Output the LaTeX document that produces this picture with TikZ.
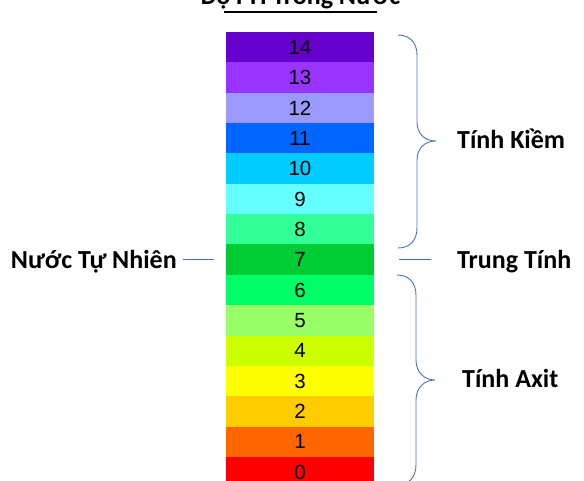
\documentclass[tikz,border=0pt]{standalone}
\usepackage{fontspec}
\setmainfont{Liberation Sans}
\newfontfamily\calibri{Carlito}
\usetikzlibrary{positioning}
\definecolor{braceblue}{HTML}{4472C4}
\definecolor{ph14}{HTML}{6600CC}
\definecolor{ph13}{HTML}{9933FF}
\definecolor{ph12}{HTML}{9999FF}
\definecolor{ph11}{HTML}{0066FF}
\definecolor{ph10}{HTML}{00CCFF}
\definecolor{ph9}{HTML}{66FFFF}
\definecolor{ph8}{HTML}{33FF99}
\definecolor{ph7}{HTML}{00CC33}
\definecolor{ph6}{HTML}{00FF66}
\definecolor{ph5}{HTML}{99FF66}
\definecolor{ph4}{HTML}{CCFF00}
\definecolor{ph3}{HTML}{FFFF00}
\definecolor{ph2}{HTML}{FFCC00}
\definecolor{ph1}{HTML}{FF6600}
\definecolor{ph0}{HTML}{FF0000}

\begin{document}
\begin{tikzpicture}[x=1pt, y=-1pt,
    level/.style={fill=#1, draw=#1, line width=0.6pt, minimum width=147.4pt, minimum height=29.75pt, inner sep=0pt, font=\fontsize{20.5}{20.5}\selectfont},
    tag/.style={font=\calibri\bfseries\fontsize{26}{26}\selectfont, inner sep=0pt, text height=17pt, text depth=0pt},
    thin line/.style={draw=braceblue, line width=0.9pt}]
    \useasboundingbox (0,0) rectangle (584,480);
    \clip (0,0) rectangle (584,480);

    % title, cut at the top edge
    \node[tag, anchor=base] (title) at (300,4) {Độ PH Trong Nước};
    \draw[line width=2pt] (224,12) -- (377,12);

    % the pH scale
    \node[level=ph14] (p14) at (300,47.2) {14};
    \foreach \n [remember=\n as \last (initially 14)] in {13,12,...,0}
        \node[level=ph\n, below=0pt of p\last] (p\n) {\n};

    \node[tag, left=49pt of p7] (natural) {Nước Tự Nhiên};
    \node[tag, right=83pt of p7] (neutral) {Trung Tính};
    \node[tag, right=83pt of p11, yshift=-2pt] (alkaline) {Tính Kiềm};
    \node[tag, right=88pt of p3, yshift=2.5pt] (acid) {Tính Axit};

    \draw[thin line, shorten <=6pt, shorten >=12pt] (natural) -- (p7);
    \draw[thin line, shorten <=25pt, shorten >=26pt] (p7) -- (neutral);

    % braces
    \draw[thin line] (398,35) .. controls (410,35) and (417,43) .. (417,55) -- (417,122)
        .. controls (417,134) and (425,141) .. (436,141)
        .. controls (425,141) and (417,148) .. (417,160) -- (417,228)
        .. controls (417,240) and (410,248) .. (398,248);
    \draw[thin line] (397,275) .. controls (409,275) and (416,283) .. (416,295) -- (416,360)
        .. controls (416,372) and (424,380) .. (435,380)
        .. controls (424,380) and (416,388) .. (416,400) -- (416,465)
        .. controls (416,477) and (409,485) .. (397,485);
\end{tikzpicture}
\end{document}
